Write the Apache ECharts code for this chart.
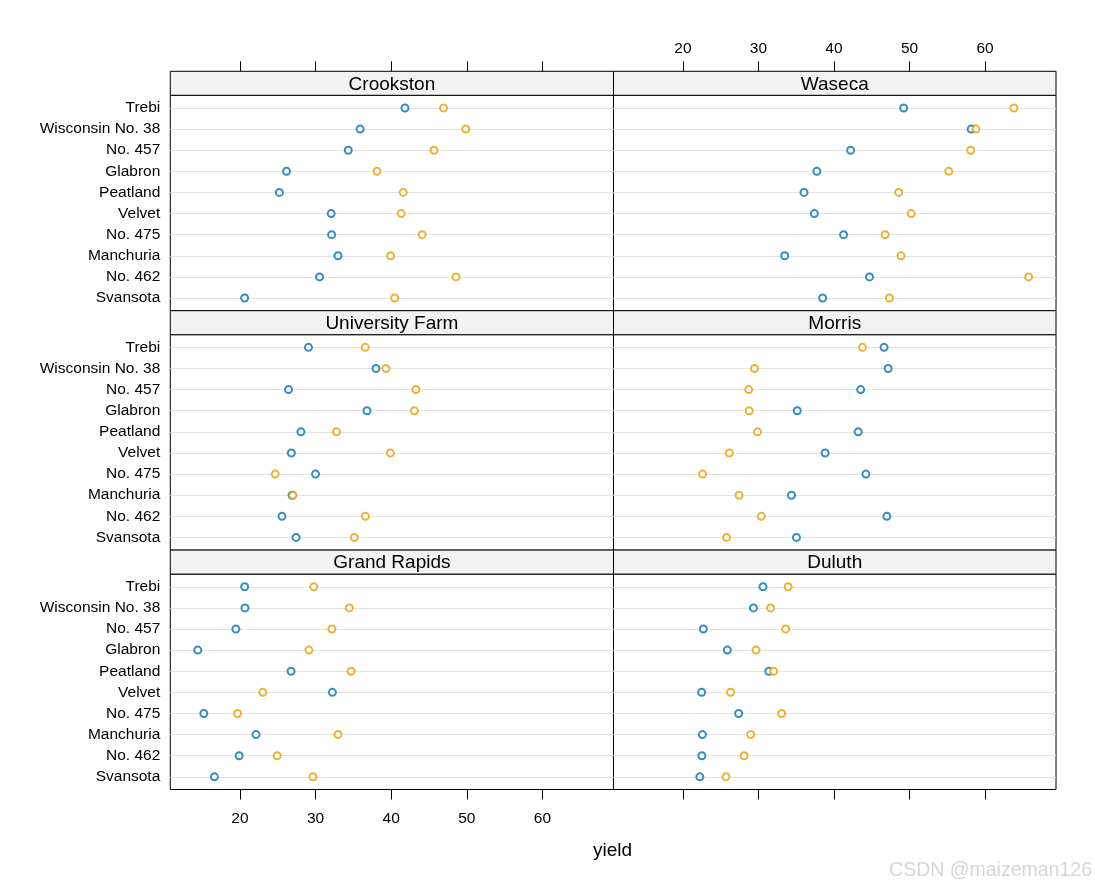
<!DOCTYPE html>
<html><head><meta charset="utf-8">
<script src="https://cdn.jsdelivr.net/npm/echarts@6/dist/echarts.min.js"></script>
<style>html,body{margin:0;padding:0;background:#fff}#c{width:1095px;height:887px}</style>
</head><body><div id="c"></div>
<script>
// varieties listed bottom -> top
const varieties = ["Svansota","No. 462","Manchuria","No. 475","Velvet","Peatland","Glabron","No. 457","Wisconsin No. 38","Trebi"];
const panelSites = ["Crookston","Waseca","University Farm","Morris","Grand Rapids","Duluth"];
const years = ["1932","1931"];
const xTicks = [20,30,40,50,60];

const crookston1932 = [20.63,30.53,32.97,32.13,32.07,25.23,26.17,34.33,35.90,41.83];
const crookston1931 = [40.47,48.57,39.93,44.10,41.33,41.60,38.13,45.67,49.87,46.93];
const waseca1932 = [38.50,44.70,33.47,41.27,37.40,36.03,37.73,42.20,58.17,49.23];
const waseca1931 = [47.33,65.77,48.87,46.77,50.23,48.57,55.20,58.10,58.80,63.83];
const univFarm1932 = [27.43,25.57,26.90,30.00,26.80,28.07,36.80,26.43,38.00,29.07];
const univFarm1931 = [35.13,36.60,27.00,24.67,39.90,32.77,43.07,43.27,39.30,36.57];
const morris1932 = [35.03,47.00,34.37,44.23,38.83,43.20,35.13,43.53,47.17,46.63];
const morris1931 = [25.77,30.37,27.43,22.60,26.13,29.87,28.77,28.70,29.47,43.77];
const grandRapids1932 = [16.63,19.90,22.13,15.23,32.23,26.77,14.43,19.47,20.67,20.63];
const grandRapids1931 = [29.67,24.93,32.97,19.70,23.03,34.70,29.13,32.17,34.47,29.77];
const duluth1932 = [22.23,22.50,22.57,27.37,22.47,31.37,25.87,22.70,29.33,30.60];
const duluth1931 = [25.70,28.10,28.97,33.07,26.30,32.00,29.67,33.60,31.60,33.93];

const panelData = [
  [crookston1932, crookston1931],
  [waseca1932, waseca1931],
  [univFarm1932, univFarm1931],
  [morris1932, morris1931],
  [grandRapids1932, grandRapids1931],
  [duluth1932, duluth1931]
];
const colors = ["#0072B2","#E69F00"];

const colLeft = [170.3, 613.5], colWidth = [443.2, 442.5];
const stripTop0 = 71.3, stripH = 24, panelH = 215.4, rowStep = stripH + panelH;
const FONT = "Liberation Sans, Arial, sans-serif";
const yIdx = varieties.map((v, j) => j + 1);

const grids = [], xAxes = [], yAxes = [], series = [], graphics = [];
panelSites.forEach((site, i) => {
  const r = Math.floor(i / 2), c = i % 2;
  const top = stripTop0 + r * rowStep + stripH;
  grids.push({left: colLeft[c], top: top, width: colWidth[c], height: panelH,
    show: true, borderColor: "#000", borderWidth: 1, backgroundColor: "transparent", containLabel: false});
  const showLabel = (r === 0 && c === 1) || (r === 2 && c === 0);
  const showTicks = r !== 1;
  xAxes.push({type: "value", gridIndex: i, min: 10.8, max: 69.4,
    position: r === 0 ? "top" : "bottom",
    offset: r === 0 ? stripH : 0,
    axisLine: {show: false},
    axisTick: {show: showTicks, inside: false, length: 10, customValues: xTicks, lineStyle: {color: "#000", width: 1}},
    axisLabel: {show: showLabel, customValues: xTicks, color: "#000", fontSize: 15.5, fontFamily: FONT, margin: r === 0 ? 15 : 21},
    splitLine: {show: false}
  });
  yAxes.push({type: "value", gridIndex: i, min: 0.4, max: 10.6,
    axisLine: {show: false},
    axisTick: {show: false, customValues: yIdx},
    axisLabel: {show: c === 0, customValues: yIdx, margin: 10, color: "#000", fontSize: 15.5, fontFamily: FONT,
      padding: [3, 0, 0, 0],
      formatter: v => varieties[Math.round(v) - 1] || ""},
    splitLine: {show: false}
  });
  years.forEach((yr, k) => {
    const s = {type: "scatter", name: yr, xAxisIndex: i, yAxisIndex: i,
      symbol: "emptyCircle", symbolSize: 7, z: 3,
      itemStyle: {color: colors[k], borderColor: colors[k], borderWidth: 1},
      data: panelData[i][k].map((v, j) => [v, j + 1]),
      silent: true
    };
    if (k === 0) {
      s.markLine = {silent: true, symbol: "none", animation: false, z: 1,
        label: {show: false},
        lineStyle: {color: "#e3e3e3", width: 1, type: "solid"},
        data: yIdx.map(y => ({yAxis: y}))};
    }
    series.push(s);
  });
  graphics.push({type: "rect", shape: {x: colLeft[c], y: stripTop0 + r * rowStep, width: colWidth[c], height: stripH},
    style: {fill: "#f2f2f2", stroke: "#000", lineWidth: 1}, z: 10});
  graphics.push({type: "text", x: colLeft[c] + colWidth[c] / 2, y: stripTop0 + r * rowStep + stripH / 2 + 1,
    style: {text: site, fill: "#000", font: "19px " + FONT, textAlign: "center", textVerticalAlign: "middle"}, z: 11});
});
graphics.push({type: "text", x: 612.5, y: 851, style: {text: "yield", fill: "#000", font: "19px " + FONT, textAlign: "center", textVerticalAlign: "middle"}});
graphics.push({type: "text", x: 1092, y: 871, style: {text: "CSDN @maizeman126", fill: "#d6d6d6", font: "19.5px " + FONT, textAlign: "right", textVerticalAlign: "middle"}});

const chart = echarts.init(document.getElementById("c"), null, {renderer: "canvas"});
chart.setOption({
  animation: false,
  backgroundColor: "#fff",
  grid: grids, xAxis: xAxes, yAxis: yAxes, series: series, graphic: graphics
});
</script></body></html>
